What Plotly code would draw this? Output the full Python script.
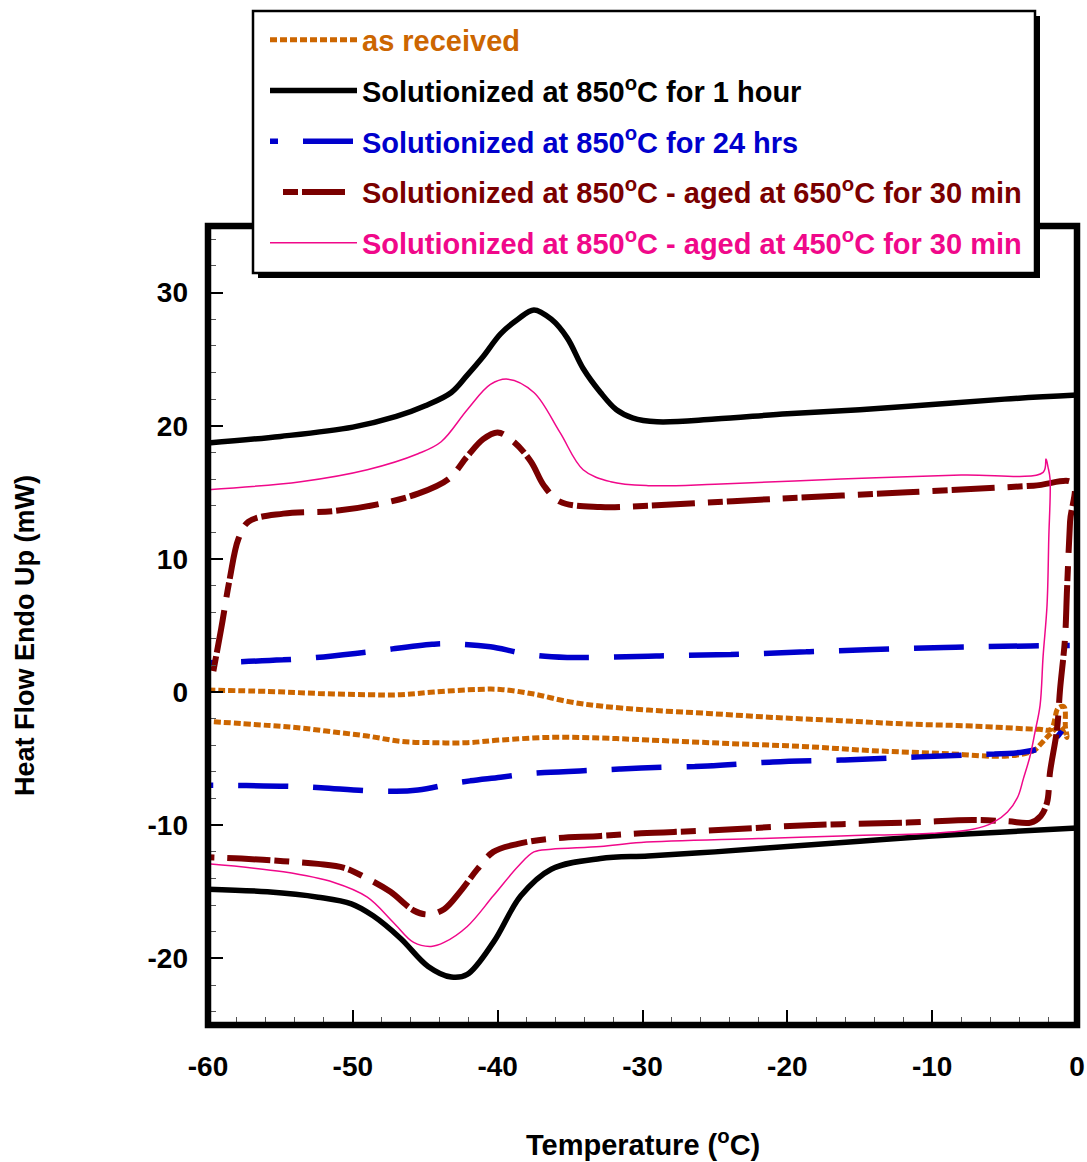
import plotly.graph_objects as go

# ---------------- data ----------------
# As received (orange): heating branch then cooling branch
asrec_heat_x = [-60, -55.9, -52.4, -49.0, -46.7, -44.4, -41.4, -39.8, -37.5, -35.2, -32.9, -29.6,
                -25.5, -21.0, -16.3, -11.7, -7.2, -2.6, -1.8, -1.3, -0.9, -0.8, -0.7]
asrec_heat_y = [0.15, 0.05, -0.1, -0.2, -0.2, 0.0, 0.2, 0.2, -0.15, -0.7, -1.05, -1.35,
                -1.6, -1.9, -2.15, -2.4, -2.55, -2.8, -2.8, -1.2, -1.1, -2.6, -3.4]
asrec_cool_x = [-1.2, -1.9, -2.5, -3.0, -4.8, -9.4, -14.1, -18.6, -23.2, -29.6, -32.9, -36.3,
                -39.8, -42.1, -44.4, -46.7, -49.0, -51.3, -53.6, -55.9, -60]
asrec_cool_y = [-2.6, -3.2, -3.9, -4.4, -4.8, -4.6, -4.4, -4.1, -3.9, -3.6, -3.45, -3.4,
                -3.6, -3.8, -3.8, -3.7, -3.3, -3.0, -2.7, -2.5, -2.2]

# Solutionized 850 C, 1 hour (black)
sol1h_heat_x = [-60, -55, -50, -47, -45, -43.2, -42.1, -41.0, -39.8, -38.6, -37.5, -36.3, -35.2,
                -34.1, -32.9, -31.8, -30.7, -29.0, -25, -20, -15, -10, -5, 0]
sol1h_heat_y = [18.7, 19.2, 19.9, 20.7, 21.5, 22.5, 23.8, 25.2, 26.9, 28.0, 28.7, 28.0, 26.6,
                24.3, 22.5, 21.2, 20.6, 20.3, 20.5, 20.9, 21.2, 21.6, 22.0, 22.3]
sol1h_cool_x = [0, -5, -10, -15, -20, -25, -29.6, -32.9, -36.3, -38.4, -40.3, -42.1, -43.2,
                -44.8, -46.7, -48.6, -50.1, -52.4, -55.9, -60]
sol1h_cool_y = [-10.2, -10.5, -10.8, -11.2, -11.6, -12.0, -12.3, -12.5, -13.3, -15.3, -18.8, -21.2,
                -21.4, -20.6, -18.5, -16.8, -15.9, -15.4, -15.0, -14.8]

# Solutionized 850 C, 24 hrs (blue)
sol24_heat_x = [-60, -53.6, -49.0, -44.4, -42.6, -40.5, -37.7, -35.2, -29.6, -23.2, -14.1, -7.2, -0.5]
sol24_heat_y = [2.2, 2.5, 3.0, 3.6, 3.6, 3.4, 2.8, 2.6, 2.7, 2.85, 3.2, 3.4, 3.5]
sol24_cool_x = [-1.05, -1.4, -2.1, -3.7, -7.2, -11.7, -16.3, -21.0, -25.5, -30.1, -32.9, -37.5,
                -39.8, -42.8, -45.5, -48.1, -53.6, -60]
sol24_cool_y = [-2.9, -3.4, -4.05, -4.5, -4.7, -4.9, -5.1, -5.25, -5.55, -5.7, -5.85, -6.1,
                -6.4, -6.8, -7.35, -7.45, -7.1, -7.0]

# Solutionized - aged 650 C, 30 min (dark red)
aged650_heat_x = [-59.8, -59.1, -58.5, -57.9, -57.2, -54.8, -51.3, -48.3, -45.5, -43.4, -42.1, -41.0,
                  -40.0, -38.9, -37.7, -36.8, -35.7, -32.9, -29.6, -21.0, -11.7, -3.0, -0.3]
aged650_heat_y = [0.6, 4.7, 8.5, 11.5, 12.8, 13.4, 13.6, 14.1, 14.9, 16.0, 17.7, 19.0,
                  19.5, 18.8, 17.3, 15.5, 14.3, 13.9, 14.0, 14.5, 15.0, 15.5, 15.7]
aged650_cool_x = [-0.48, -0.69, -0.83, -1.17, -1.38, -1.86, -2.07, -2.5, -3.2, -4.8, -7.2, -11.7,
                  -18.6, -25.5, -30.1, -32.9, -36.3, -38.6, -40.3, -41.4, -42.6, -43.7, -44.8,
                  -45.8, -47.4, -49.0, -50.6, -52.4, -54.8, -57.7, -60]
aged650_cool_y = [12.8, 7.7, 4.0, 0.2, -2.8, -6.0, -8.3, -9.3, -9.8, -9.7, -9.6, -9.8,
                  -10.0, -10.4, -10.6, -10.8, -11.0, -11.4, -12.0, -13.3, -15.0, -16.3, -16.7,
                  -16.4, -15.0, -14.0, -13.2, -12.9, -12.7, -12.5, -12.4]

# Solutionized - aged 450 C, 30 min (magenta)
aged450_heat_x = [-60, -53.6, -49.0, -45.5, -43.9, -42.1, -40.5, -39.3, -37.5, -35.7, -34.1, -32.2,
                  -29.6, -25, -16.3, -8, -2.34, -2.14, -2.0, -1.86]
aged450_heat_y = [15.2, 15.8, 16.7, 17.9, 18.8, 21.2, 23.1, 23.5, 22.5, 19.5, 16.7, 15.8,
                  15.5, 15.6, 16.0, 16.3, 16.5, 17.5, 16.9, 16.0]
aged450_cool_x = [-1.95, -2.07, -2.34, -2.55, -2.9, -3.24, -3.7, -4.1, -4.8, -5.8, -7.2, -10,
                  -16.3, -22, -30.1, -32.9, -36.3, -37.5, -38.6, -40.3, -42.1, -43.7, -44.6,
                  -45.8, -47.2, -49.0, -51.3, -54.8, -60]
aged450_cool_y = [11.5, 6.5, 2.7, -1.0, -3.0, -4.8, -6.5, -7.9, -9.0, -9.8, -10.3, -10.6,
                  -10.8, -11.0, -11.3, -11.6, -11.8, -12.0, -13.1, -15.3, -17.6, -18.8, -19.1,
                  -18.8, -17.3, -15.4, -14.3, -13.5, -12.9]

series_names = [
    "as received",
    "Solutionized at 850<sup>o</sup>C for 1 hour",
    "Solutionized at 850<sup>o</sup>C for 24 hrs",
    "Solutionized at 850<sup>o</sup>C - aged at 650<sup>o</sup>C for 30 min",
    "Solutionized at 850<sup>o</sup>C - aged at 450<sup>o</sup>C for 30 min",
]

x_ticks = [-60, -50, -40, -30, -20, -10, 0]
y_ticks = [-20, -10, 0, 10, 20, 30]

# ---------------- styling ----------------
FONT = "Liberation Sans, Arial, Helvetica, sans-serif"
W, H = 1087, 1162
PL, PR, PT, PB = 208, 1077, 226, 1025  # plot area in page pixels


def fx(p):
    return (p - PL) / (PR - PL)


def fy(p):
    return (PB - p) / (PB - PT)


styles = [
    dict(color="#CC6600", width=5, dash="7px,3px"),
    dict(color="#000000", width=5.5, dash="solid"),
    dict(color="#0000CC", width=5.5, dash="8px,25px,42px,0px"),
    dict(color="#7A0000", width=6, dash="0px,13px,15px,4px,43px,0px"),
    dict(color="#F0088A", width=1.5, dash="solid"),
]
text_colors = ["#CC6600", "#000000", "#0000CC", "#7A0000", "#F0088A"]

data = [
    (asrec_heat_x + asrec_cool_x, asrec_heat_y + asrec_cool_y),
    (sol1h_heat_x + [None] + sol1h_cool_x, sol1h_heat_y + [None] + sol1h_cool_y),
    (sol24_heat_x + [None] + sol24_cool_x, sol24_heat_y + [None] + sol24_cool_y),
    (aged650_heat_x + aged650_cool_x, aged650_heat_y + aged650_cool_y),
    (aged450_heat_x + aged450_cool_x, aged450_heat_y + aged450_cool_y),
]

fig = go.Figure()
for i, ((xs, ys), name) in enumerate(zip(data, series_names)):
    fig.add_trace(go.Scatter(
        x=xs, y=ys, mode="lines",
        name=f'<span style="color:{text_colors[i]}">{name}</span>',
        legendgroup=f"g{i}",
        line=dict(color=styles[i]["color"], width=styles[i]["width"], dash=styles[i]["dash"],
                  shape="spline", smoothing=1.0),
        connectgaps=False,
        hoverinfo="skip",
    ))

axis_common = dict(
    showgrid=False, zeroline=False, showline=False,
    ticks="inside", ticklen=15, tickwidth=1.5, tickcolor="#000000",
    tickfont=dict(family=FONT, size=28, color="#000000", weight="bold"),
    minor=dict(ticks="inside", ticklen=8, tickwidth=1.2, tickcolor="#555555", dtick=2, showgrid=False),
)

fig.update_xaxes(range=[-60, 0], tickmode="array", tickvals=x_ticks,
                 ticktext=[str(v) for v in x_ticks], ticklabelstandoff=22, **axis_common)
fig.update_yaxes(range=[-25, 35], tickmode="array", tickvals=y_ticks,
                 ticktext=[str(v) for v in y_ticks], ticklabelstandoff=19, **axis_common)

shapes = [
    # plot frame
    dict(type="rect", xref="paper", yref="paper", x0=0, x1=1, y0=0, y1=1,
         line=dict(color="#000000", width=6.5), fillcolor="rgba(0,0,0,0)", layer="above"),
    # legend shadow
    dict(type="rect", xref="paper", yref="paper", x0=fx(258), x1=fx(1040), y0=fy(278), y1=fy(16),
         line=dict(width=0), fillcolor="#000000", layer="above"),
    # legend box
    dict(type="rect", xref="paper", yref="paper", x0=fx(253), x1=fx(1035), y0=fy(273), y1=fy(11),
         line=dict(color="#000000", width=2.5), fillcolor="#FFFFFF", layer="above"),
]

annotations = [
    dict(text="Temperature (<sup>o</sup>C)", xref="paper", yref="paper",
         x=fx(643), y=fy(1143), xanchor="center", yanchor="middle", showarrow=False,
         font=dict(family=FONT, size=29, color="#000000", weight="bold")),
    dict(text="Heat Flow Endo Up (mW)", xref="paper", yref="paper", textangle=-90,
         x=fx(25), y=fy(636), xanchor="center", yanchor="middle", showarrow=False,
         font=dict(family=FONT, size=27, color="#000000", weight="bold")),
]

fig.update_layout(
    width=W, height=H,
    margin=dict(l=PL, r=W - PR, t=PT, b=H - PB, autoexpand=False),
    paper_bgcolor="#FFFFFF", plot_bgcolor="#FFFFFF",
    shapes=shapes, annotations=annotations,
    showlegend=True,
    legend=dict(
        x=fx(265), y=fy(14.5), xanchor="left", yanchor="top",
        bgcolor="rgba(0,0,0,0)", borderwidth=0,
        font=dict(family=FONT, size=29, color="#000000", weight="bold"),
        itemwidth=87, tracegroupgap=10, traceorder="grouped",
        itemclick=False, itemdoubleclick=False,
    ),
)

fig.write_html("out.html")
